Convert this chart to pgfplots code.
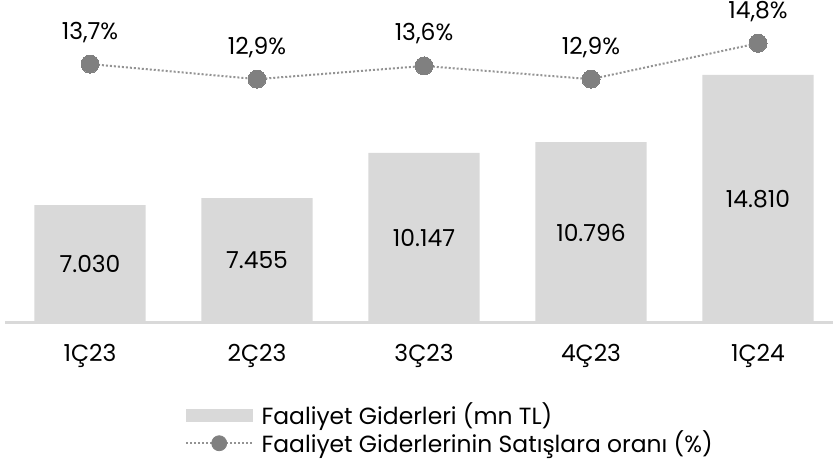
\documentclass[border=0pt]{standalone}
\usepackage{pgfplots}
\pgfplotsset{compat=1.18}
\usepackage{pgfplotstable}
\usepackage{fontspec}
\setmainfont{Poppins}
\definecolor{barc}{HTML}{D9D9D9}
\definecolor{dotc}{HTML}{808080}
\pgfplotstableread{
x v p
0 7030 13.7
1 7455 12.9
2 10147 13.6
3 10796 12.9
4 14810 14.8
}\data
\newcommand{\fs}{\fontsize{11.7}{13}\selectfont}
\begin{document}
\begin{tikzpicture}
\begin{axis}[name=main, scale only axis, width=414pt, height=161.5pt,
  xmin=-0.509, xmax=4.449, ymin=0, ymax=19280,
  axis y line=none, axis x line*=bottom,
  x axis line style={draw=barc, line width=1.5pt, -},
  xtick={0,1,2,3,4}, xticklabels={1Ç23,2Ç23,3Ç23,4Ç23,1Ç24},
  major tick length=0pt,
  xticklabel style={font=\fs, text=black, yshift=-7pt},
  legend style={draw=none, fill=none, at={(0.2174,-0.234)}, anchor=north west, inner sep=0pt,
    font=\fs, row sep=-2.5pt, cells={anchor=west}},
  legend cell align=left,
  clip=false]
\addplot[ybar, bar width=0.665, fill=barc, draw=none,
  legend image code/.code={\fill[barc] (0pt,-3.25pt) rectangle (33.5pt,3.25pt); \path (35.5pt,0pt);}]
  table[x=x,y=v]{\data};
\addlegendentry{Faaliyet Giderleri (mn TL)}
\addlegendimage{legend image code/.code={
  \draw[dotc!85, line width=0.8pt, dash pattern=on 0.8pt off 1.2pt] (0pt,0pt)--(33.5pt,0pt);
  \fill[dotc] (16.5pt,0pt) circle (3.75pt); \path (35.5pt,0pt);}}
\addlegendentry{Faaliyet Giderlerinin Satışlara oranı (\%)}
\addplot[only marks, mark=none, point meta=explicit,
  nodes near coords={\pgfmathprintnumber[fixed,precision=0,1000 sep={.},assume math mode=true]{\pgfplotspointmeta}},
  every node near coord/.append style={anchor=center, font=\fs, text=black}]
  table[x=x, y expr=\thisrow{v}/2, meta=v]{\data};
\end{axis}
\begin{axis}[scale only axis, width=414pt, height=161.5pt,
  xmin=-0.509, xmax=4.449, ymin=0, ymax=17.09, hide axis, clip=false]
\addplot[dotc!85, line width=1pt, dash pattern=on 1pt off 1pt,
  mark=*, mark size=4.5pt, mark options={solid, fill=dotc, draw=dotc, line width=0pt},
  point meta=y,
  nodes near coords={\pgfmathprintnumber[use comma,fixed,fixed zerofill,precision=1,assume math mode=true]{\pgfplotspointmeta}\%},
  every node near coord/.append style={anchor=center, yshift=16pt, font=\fs, text=black}]
  table[x=x,y=p]{\data};
\end{axis}
\pgfresetboundingbox
\path[use as bounding box] (main.south west) ++(-2.5pt,-75pt) rectangle (main.north east);
\end{tikzpicture}
\end{document}
